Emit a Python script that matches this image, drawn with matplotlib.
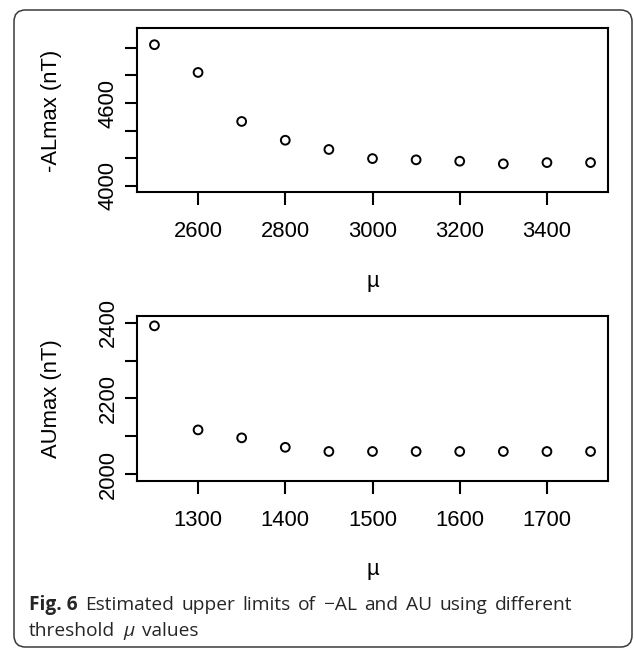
import matplotlib
matplotlib.use("Agg")
import matplotlib.pyplot as plt
from matplotlib.patches import FancyBboxPatch

# ---------------- data ----------------
mu_al = [2500, 2600, 2700, 2800, 2900, 3000, 3100, 3200, 3300, 3400, 3500]
al_max = [5023, 4822, 4467, 4331, 4264, 4198, 4189, 4179, 4160, 4169, 4169]

mu_au = [1250, 1300, 1350, 1400, 1450, 1500, 1550, 1600, 1650, 1700, 1750]
au_max = [2392, 2117, 2096, 2071, 2060, 2060, 2060, 2060, 2060, 2060, 2060]

al_xticks = [2600, 2800, 3000, 3200, 3400]
al_yticks = [4000, 4200, 4400, 4600, 4800, 5000]
al_ylabels = ["4000", "", "", "4600", "", ""]

au_xticks = [1300, 1400, 1500, 1600, 1700]
au_yticks = [2000, 2100, 2200, 2300, 2400]
au_ylabels = ["2000", "", "2200", "", "2400"]

caption_bold = "Fig. 6"
caption_line1 = "Estimated upper limits of \u2212AL and AU using different"
caption_line2 = ["threshold", "\u03bc", "values"]

# ---------------- figure ----------------
W, H = 634, 650
DPI = 100
fig = plt.figure(figsize=(W / DPI, H / DPI), dpi=DPI)
fig.patch.set_facecolor("white")

FONT = ["Liberation Sans", "DejaVu Sans"]
TFS = 15.8
LW = 1.5


def px_axes(left, top, right, bottom):
    return fig.add_axes([left / W, 1 - bottom / H, (right - left) / W, (bottom - top) / H])


def style(ax, xticks, yticks, ylabels, xlim, ylim):
    ax.set_xlim(*xlim)
    ax.set_ylim(*ylim)
    for s in ax.spines.values():
        s.set_linewidth(LW)
        s.set_color("black")
    ax.set_xticks(xticks)
    ax.set_xticklabels([str(t) for t in xticks], family=FONT, fontsize=TFS)
    ax.set_yticks(yticks)
    ax.set_yticklabels(ylabels, family=FONT, fontsize=TFS, rotation=90, va="center")
    ax.tick_params(axis="both", direction="out", length=9, width=LW)
    ax.tick_params(axis="x", pad=12)
    ax.tick_params(axis="y", pad=4.2)


ax1 = px_axes(137, 28, 608, 192)
ax1.scatter(mu_al, al_max, s=40, facecolors="none", edgecolors="black", linewidths=1.4, zorder=3)
style(ax1, al_xticks, al_yticks, al_ylabels, (2460, 3540), (3956, 5144))

ax2 = px_axes(137, 316, 608, 481)
ax2.scatter(mu_au, au_max, s=40, facecolors="none", edgecolors="black", linewidths=1.4, zorder=3)
style(ax2, au_xticks, au_yticks, au_ylabels, (1230, 1770), (1982, 2418))

# axis titles
fig.text(52 / W, 1 - 111 / H, "-ALmax (nT)", rotation=90, ha="center", va="center",
         family=FONT, fontsize=TFS)
fig.text(51 / W, 1 - 399 / H, "AUmax (nT)", rotation=90, ha="center", va="center",
         family=FONT, fontsize=TFS)
fig.text(372.5 / W, 1 - 282 / H, "\u00b5", ha="center", va="center", family=FONT, fontsize=TFS)
fig.text(372.5 / W, 1 - 570 / H, "\u00b5", ha="center", va="center", family=FONT, fontsize=TFS)

# rounded frame
frame = FancyBboxPatch((14 / W, 1 - 647 / H), (632 - 14) / W, (647 - 10) / H,
                       boxstyle="round,pad=0,rounding_size=0.018",
                       transform=fig.transFigure, facecolor="none",
                       edgecolor="#3a3a3a", linewidth=1.1, zorder=0)
fig.patches.append(frame)

# caption (justified first line)
CFONT = ["Open Sans", "DejaVu Sans"]
CFS = 13.8
CCOL = "#262626"
fig.canvas.draw()
renderer = fig.canvas.get_renderer()

x_left, x_right = 29, 572
base1 = 1 - 610 / H
base2 = 1 - 636.5 / H

words = [(caption_bold, "bold")] + [(w, "normal") for w in caption_line1.split()]
texts = []
widths = []
for w, wt in words:
    t = fig.text(0, base1, w, ha="left", va="baseline", family=CFONT, fontsize=CFS,
                 fontweight=wt, color=CCOL)
    texts.append(t)
    widths.append(t.get_window_extent(renderer).width)
gap = (x_right - x_left - sum(widths)) / (len(words) - 1)
x = x_left
for t, wd in zip(texts, widths):
    t.set_x(x / W)
    x += wd + gap

x = x_left
for w in caption_line2:
    st = "italic" if w == "\u03bc" else "normal"
    t = fig.text(x / W, base2, w, ha="left", va="baseline", family=CFONT, fontsize=CFS,
                 fontstyle=st, color=CCOL)
    x += t.get_window_extent(renderer).width + 8

fig.savefig("out.png", dpi=DPI, facecolor="white")
